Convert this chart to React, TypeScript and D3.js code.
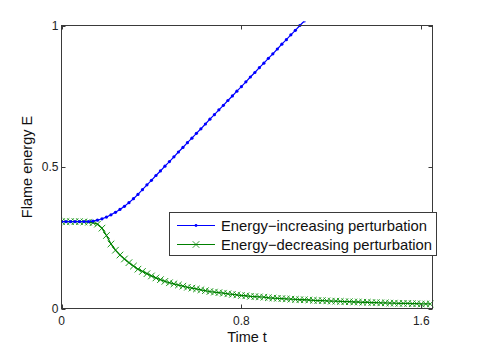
import React, { useRef, useEffect } from "react";
import * as d3 from "d3";

// sample times (dt = 0.02)
const times = d3.range(0, 83).map((i) => +(i * 0.02).toFixed(2));

const increasing = [
  0.307, 0.307, 0.307, 0.307, 0.307, 0.307, 0.307, 0.309, 0.312, 0.317,
  0.323, 0.331, 0.34, 0.35, 0.361, 0.374, 0.388, 0.403, 0.42, 0.437,
  0.453, 0.47, 0.486, 0.503, 0.519, 0.536, 0.553, 0.569, 0.586, 0.602,
  0.619, 0.635, 0.652, 0.669, 0.685, 0.702, 0.718, 0.735, 0.751, 0.768,
  0.784, 0.801, 0.818, 0.834, 0.851, 0.867, 0.884, 0.9, 0.917, 0.934,
  0.95, 0.967, 0.983, 1.0, 1.016,
];

const decreasing = [
  0.307, 0.307, 0.307, 0.307, 0.307, 0.306, 0.305, 0.303, 0.298, 0.284,
  0.258, 0.228, 0.206, 0.189, 0.175, 0.162, 0.15, 0.139, 0.131, 0.123,
  0.115, 0.108, 0.102, 0.096, 0.091, 0.087, 0.083, 0.079, 0.075, 0.072,
  0.069, 0.066, 0.063, 0.06, 0.058, 0.056, 0.054, 0.052, 0.05, 0.048,
  0.046, 0.045, 0.043, 0.042, 0.041, 0.04, 0.038, 0.037, 0.036, 0.035,
  0.034, 0.033, 0.032, 0.031, 0.031, 0.03, 0.029, 0.028, 0.028, 0.027,
  0.026, 0.026, 0.025, 0.024, 0.024, 0.023, 0.023, 0.022, 0.022, 0.021,
  0.021, 0.02, 0.02, 0.019, 0.019, 0.018, 0.018, 0.018, 0.017, 0.017,
  0.016, 0.016, 0.016,
];

const xTicks = [0, 0.8, 1.6];
const yTicks = [0, 0.5, 1];
const legendLabels = ["Energy\u2212increasing perturbation", "Energy\u2212decreasing perturbation"];

const BLUE = "#0000ff";
const GREEN = "#008000";
const AXIS = "#3a3a3a";
const FONT = "'Liberation Sans', Arial, Helvetica, sans-serif";

const App = () => {
  const svgRef = useRef<SVGSVGElement>(null);

  useEffect(() => {
    const svg = d3.select(svgRef.current);
    svg.selectAll("*").remove();

    const left = 61.5, right = 432.5, top = 25.5, bottom = 308.5;

    const x = d3.scaleLinear().domain([0, 1.65]).range([left, right]);
    const y = d3.scaleLinear().domain([0, 1]).range([bottom, top]);

    svg.append("rect").attr("width", 477).attr("height", 349).attr("fill", "#fff");

    svg.append("defs").append("clipPath").attr("id", "plot-clip")
      .append("rect")
      .attr("x", left).attr("y", top - 4)
      .attr("width", right - left + 4).attr("height", bottom - top + 8);

    const plot = svg.append("g").attr("clip-path", "url(#plot-clip)");

    const line = d3.line<number>()
      .x((d, i) => x(times[i]))
      .y((d) => y(d));

    const m = 3.3;
    const cross = (cx: number, cy: number) =>
      `M${cx - m},${cy - m}L${cx + m},${cy + m}M${cx - m},${cy + m}L${cx + m},${cy - m}`;

    // green series: line + x markers
    plot.append("g")
      .selectAll("path")
      .data(decreasing)
      .enter()
      .append("path")
      .attr("d", (d, i) => cross(x(times[i]), y(d)))
      .attr("stroke", "#1f9a1f")
      .attr("stroke-width", 1)
      .attr("fill", "none");

    plot.append("path")
      .datum(decreasing)
      .attr("d", line)
      .attr("fill", "none")
      .attr("stroke", GREEN)
      .attr("stroke-width", 1.3);

    // blue series: line + point markers
    plot.append("path")
      .datum(increasing)
      .attr("d", line)
      .attr("fill", "none")
      .attr("stroke", BLUE)
      .attr("stroke-width", 1.2);

    plot.append("g")
      .selectAll("circle")
      .data(increasing)
      .enter()
      .append("circle")
      .attr("cx", (d, i) => x(times[i]))
      .attr("cy", (d) => y(d))
      .attr("r", 1.6)
      .attr("fill", BLUE);

    // axes box
    svg.append("rect")
      .attr("x", left).attr("y", top)
      .attr("width", right - left).attr("height", bottom - top)
      .attr("fill", "none")
      .attr("stroke", AXIS)
      .attr("stroke-width", 1);

    const tickLen = 4;
    const ticks = svg.append("g").attr("stroke", AXIS).attr("stroke-width", 1);
    xTicks.forEach((t) => {
      const px = Math.round(x(t)) + 0.5;
      ticks.append("line").attr("x1", px).attr("x2", px).attr("y1", bottom).attr("y2", bottom - tickLen);
      ticks.append("line").attr("x1", px).attr("x2", px).attr("y1", top).attr("y2", top + tickLen);
    });
    yTicks.forEach((t) => {
      const py = Math.round(y(t)) + 0.5;
      ticks.append("line").attr("x1", left).attr("x2", left + tickLen).attr("y1", py).attr("y2", py);
      ticks.append("line").attr("x1", right).attr("x2", right - tickLen).attr("y1", py).attr("y2", py);
    });

    svg.append("g")
      .selectAll("text")
      .data(xTicks)
      .enter()
      .append("text")
      .attr("x", (d) => x(d))
      .attr("y", 325)
      .attr("text-anchor", "middle")
      .style("font-family", FONT)
      .style("font-size", "12px")
      .attr("fill", "#222")
      .text((d) => String(d));

    svg.append("g")
      .selectAll("text")
      .data(yTicks)
      .enter()
      .append("text")
      .attr("x", 58.5)
      .attr("y", (d) => y(d) + 4.3)
      .attr("text-anchor", "end")
      .style("font-family", FONT)
      .style("font-size", "12px")
      .attr("fill", "#222")
      .text((d) => String(d));

    // axis labels
    svg.append("text")
      .attr("x", (left + right) / 2)
      .attr("y", 341.5)
      .attr("text-anchor", "middle")
      .style("font-family", FONT)
      .style("font-size", "14.5px")
      .attr("fill", "#111")
      .text("Time t");

    svg.append("text")
      .attr("transform", `translate(32,${(top + bottom) / 2}) rotate(-90)`)
      .attr("text-anchor", "middle")
      .style("font-family", FONT)
      .style("font-size", "14.5px")
      .attr("fill", "#111")
      .text("Flame energy E");

    // legend
    const lg = svg.append("g");
    lg.append("rect")
      .attr("x", 169.5).attr("y", 212.5)
      .attr("width", 267).attr("height", 43)
      .attr("fill", "#fff")
      .attr("stroke", AXIS)
      .attr("stroke-width", 1);

    const rows = [225.5, 244.5];
    legendLabels.forEach((label, i) => {
      const ry = rows[i];
      const color = i === 0 ? BLUE : GREEN;
      lg.append("line")
        .attr("x1", 177).attr("x2", 215)
        .attr("y1", ry).attr("y2", ry)
        .attr("stroke", color).attr("stroke-width", 1);
      if (i === 0) {
        lg.append("circle").attr("cx", 196).attr("cy", ry).attr("r", 1.4).attr("fill", BLUE);
      } else {
        lg.append("path")
          .attr("d", cross(196, ry))
          .attr("stroke", GREEN).attr("stroke-width", 0.8);
      }
      lg.append("text")
        .attr("x", 221)
        .attr("y", ry + 5)
        .style("font-family", FONT)
        .style("font-size", "14.8px")
        .attr("fill", "#111")
        .text(label);
    });
  }, []);

  return (
    <div style={{ position: "absolute", left: 0, top: 0 }}>
      <svg ref={svgRef} width={477} height={349} style={{ display: "block" }}></svg>
    </div>
  );
};

export default App;
